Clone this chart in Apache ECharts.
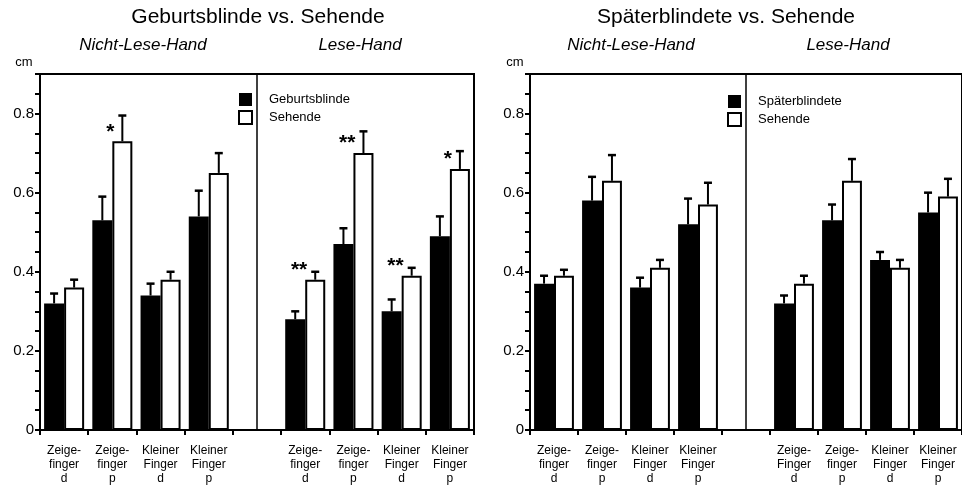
<!DOCTYPE html>
<html lang="de">
  <head>
    <meta charset="UTF-8" />
    <title>Geburtsblinde / Späterblindete vs. Sehende</title>
    <script src="https://cdn.jsdelivr.net/npm/echarts@6/dist/echarts.min.js"></script>
    <style>
      html, body { margin: 0; background: #fff; }
      #chart { width: 962px; height: 487px; }
    </style>
  </head>
  <body>
    <div id="chart"></div>
    <script>
      // Kategorien (Index 4 = Lücke zwischen Nicht-Lese-Hand und Lese-Hand)
      var leftCats = ['Zeige-\nfinger\nd', 'Zeige-\nfinger\np', 'Kleiner\nFinger\nd', 'Kleiner\nFinger\np', '',
        'Zeige-\nfinger\nd', 'Zeige-\nfinger\np', 'Kleiner\nFinger\nd', 'Kleiner\nFinger\np'];
      var rightCats = ['Zeige-\nfinger\nd', 'Zeige-\nfinger\np', 'Kleiner\nFinger\nd', 'Kleiner\nFinger\np', '',
        'Zeige-\nFinger\nd', 'Zeige-\nfinger\np', 'Kleiner\nFinger\nd', 'Kleiner\nFinger\np'];

      // Geburtsblinde vs. Sehende (cm)
      var gbBlind = [0.32, 0.53, 0.34, 0.54, null, 0.28, 0.47, 0.30, 0.49];
      var gbBlindErr = [0.025, 0.06, 0.03, 0.065, null, 0.02, 0.04, 0.03, 0.05];
      var gbSeh = [0.36, 0.73, 0.38, 0.65, null, 0.38, 0.70, 0.39, 0.66];
      var gbSehErr = [0.02, 0.065, 0.02, 0.05, null, 0.02, 0.055, 0.02, 0.045];
      var gbSig = ['', '*', '', '', '', '**', '**', '**', '*'];

      // Späterblindete vs. Sehende (cm)
      var sbBlind = [0.37, 0.58, 0.36, 0.52, null, 0.32, 0.53, 0.43, 0.55];
      var sbBlindErr = [0.02, 0.06, 0.025, 0.065, null, 0.02, 0.04, 0.02, 0.05];
      var sbSeh = [0.39, 0.63, 0.41, 0.57, null, 0.37, 0.63, 0.41, 0.59];
      var sbSehErr = [0.015, 0.065, 0.02, 0.055, null, 0.02, 0.055, 0.02, 0.045];
      var sbSig = ['', '', '', '', '', '', '', '', ''];

      var gapRatio = 0.17;
      var font = '"Liberation Sans", Arial, sans-serif';

      var mCharts = echarts.init(document.getElementById('chart'));

      // Fehlerbalken (nur nach oben) + Signifikanzsterne
      function makeRender(blind, blindErr, seh, sehErr, sig) {
        return function (params, api) {
          var i = api.value(0);
          var catW = api.size([1, 0])[0];
          var bw = catW * (1 - gapRatio) / 2;
          var c = api.coord([i, 0])[0];
          var kids = [];
          [[blind[i], blindErr[i], -1], [seh[i], sehErr[i], 1]].forEach(function (d) {
            var x = c + d[2] * bw / 2;
            var y0 = api.coord([i, d[0]])[1];
            var y1 = api.coord([i, d[0] + d[1]])[1];
            kids.push({ type: 'line', shape: { x1: x, y1: y0, x2: x, y2: y1 }, style: { stroke: '#000', lineWidth: 2 } });
            kids.push({ type: 'line', shape: { x1: x - 4, y1: y1, x2: x + 4, y2: y1 }, style: { stroke: '#000', lineWidth: 2.5 } });
          });
          if (sig[i]) {
            var ys = api.coord([i, seh[i]])[1];
            kids.push({
              type: 'text',
              style: {
                text: sig[i], x: c + 2, y: ys + 1, align: 'right', verticalAlign: 'bottom',
                font: 'bold 21px ' + font, fill: '#000'
              }
            });
          }
          return { type: 'group', children: kids };
        };
      }

      function idxData(arr, err) {
        var out = [];
        for (let i = 0; i < arr.length; i++) {
          if (arr[i] != null) out.push([i, arr[i] + err[i]]);
        }
        return out;
      }

      function yFmt(v) {
        var k = Math.round(v * 100);
        if (k % 20 !== 0 || k > 85) return '';
        return k === 0 ? '0' : v.toFixed(1);
      }

      function xAxisFor(g, cats) {
        return {
          gridIndex: g, type: 'category', data: cats, boundaryGap: true,
          axisLine: { lineStyle: { color: '#000', width: 2 } },
          axisTick: { show: true, interval: 0, length: 5, lineStyle: { color: '#000', width: 2 } },
          axisLabel: { interval: 0, color: '#000', fontSize: 12, lineHeight: 14, margin: 14, fontFamily: font }
        };
      }

      function yAxisFor(g) {
        return {
          gridIndex: g, type: 'value', min: 0, max: 0.9, interval: 0.05,
          splitLine: { show: false },
          axisLine: { show: true, lineStyle: { color: '#000', width: 2 } },
          axisTick: { show: true, length: 5, lineStyle: { color: '#000', width: 2 } },
          axisLabel: { color: '#000', fontSize: 15, margin: 6, fontFamily: font, formatter: yFmt }
        };
      }

      function seriesFor(g, blindName, blind, blindErr, seh, sehErr, sig) {
        return [
          {
            name: blindName, type: 'bar', xAxisIndex: g, yAxisIndex: g, data: blind,
            barGap: '0%', barCategoryGap: gapRatio * 100 + '%',
            itemStyle: { color: '#000' }
          },
          {
            name: 'Sehende', type: 'bar', xAxisIndex: g, yAxisIndex: g, data: seh,
            itemStyle: { color: '#fff', borderColor: '#000', borderWidth: 2 }
          },
          {
            type: 'custom', xAxisIndex: g, yAxisIndex: g, z: 5, silent: true,
            renderItem: makeRender(blind, blindErr, seh, sehErr, sig),
            data: idxData(blind, blindErr),
            // Trennlinie zwischen Nicht-Lese-Hand und Lese-Hand
            markLine: {
              silent: true, symbol: 'none', label: { show: false },
              lineStyle: { color: '#000', type: 'solid', width: 1.5 },
              data: [{ xAxis: 4 }]
            }
          }
        ];
      }

      function legendFor(left, top, names) {
        return {
          data: names, left: left, top: top, orient: 'vertical', selectedMode: false,
          padding: 0, icon: 'rect',
          itemWidth: 13, itemHeight: 13, itemGap: 4,
          textStyle: { color: '#000', fontSize: 13, fontFamily: font, padding: [0, 0, 0, 12] }
        };
      }

      function txt(x, y, s, size, italic) {
        return {
          type: 'text', x: x, y: y, silent: true,
          style: {
            text: s, align: 'center', verticalAlign: 'middle', fill: '#000',
            font: (italic ? 'italic ' : '') + size + 'px ' + font
          }
        };
      }

      var option = {
        animation: false,
        grid: [
          { left: 40, top: 74, width: 434, height: 356, show: true, borderColor: '#000', borderWidth: 2 },
          { left: 530, top: 74, width: 435, height: 356, show: true, borderColor: '#000', borderWidth: 2 }
        ],
        xAxis: [xAxisFor(0, leftCats), xAxisFor(1, rightCats)],
        yAxis: [yAxisFor(0), yAxisFor(1)],
        legend: [
          legendFor(238, 93, ['Geburtsblinde', 'Sehende']),
          legendFor(727, 95, ['Späterblindete', 'Sehende'])
        ],
        graphic: [
          txt(258, 17, 'Geburtsblinde vs. Sehende', 21),
          txt(726, 17, 'Späterblindete vs. Sehende', 21),
          txt(143, 45, 'Nicht-Lese-Hand', 17, true),
          txt(360, 45, 'Lese-Hand', 17, true),
          txt(631, 45, 'Nicht-Lese-Hand', 17, true),
          txt(848, 45, 'Lese-Hand', 17, true),
          txt(24, 62, 'cm', 13),
          txt(515, 62, 'cm', 13)
        ],
        series: seriesFor(0, 'Geburtsblinde', gbBlind, gbBlindErr, gbSeh, gbSehErr, gbSig)
          .concat(seriesFor(1, 'Späterblindete', sbBlind, sbBlindErr, sbSeh, sbSehErr, sbSig))
      };

      mCharts.setOption(option);
    </script>
  </body>
</html>
